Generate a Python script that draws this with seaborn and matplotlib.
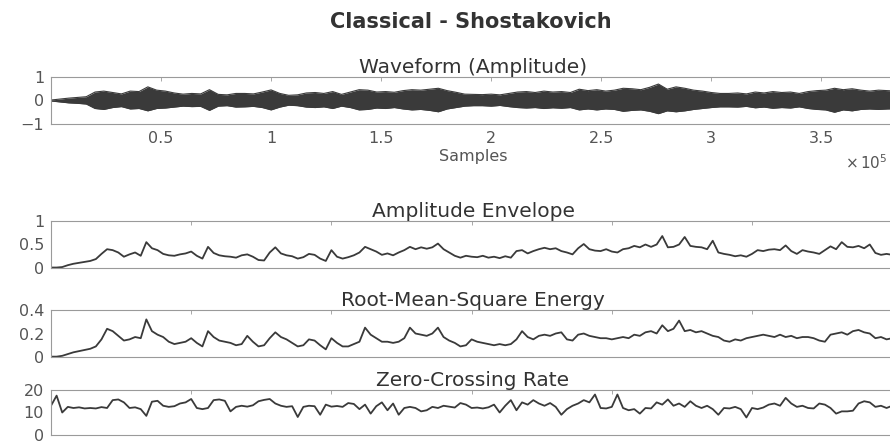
import numpy as np
import pandas as pd
import matplotlib
matplotlib.use("Agg")
import matplotlib.pyplot as plt
import seaborn as sns
from matplotlib.ticker import FuncFormatter

# ---- data -------------------------------------------------------------
# Waveform band: positive / negative peak amplitude per block of samples
wave_block = 4000
wave_upper = [0.02, 0.06, 0.10, 0.13, 0.16, 0.36, 0.40, 0.34, 0.28, 0.40,
              0.38, 0.58, 0.44, 0.40, 0.32, 0.27, 0.30, 0.28, 0.46, 0.26,
              0.24, 0.30, 0.30, 0.28, 0.36, 0.45, 0.30, 0.22, 0.24, 0.32,
              0.34, 0.30, 0.38, 0.26, 0.36, 0.46, 0.44, 0.36, 0.38, 0.35,
              0.42, 0.46, 0.44, 0.48, 0.52, 0.42, 0.35, 0.27, 0.26, 0.25,
              0.27, 0.24, 0.30, 0.36, 0.38, 0.34, 0.40, 0.36, 0.38, 0.34,
              0.48, 0.42, 0.46, 0.40, 0.44, 0.52, 0.50, 0.46, 0.56, 0.70,
              0.48, 0.58, 0.52, 0.44, 0.40, 0.34, 0.30, 0.30, 0.32, 0.28,
              0.36, 0.32, 0.38, 0.34, 0.36, 0.30, 0.38, 0.42, 0.44, 0.52,
              0.46, 0.50, 0.44, 0.40, 0.44, 0.42, 0.40]
wave_lower = [-0.02, -0.06, -0.10, -0.12, -0.15, -0.34, -0.38, -0.30, -0.26, -0.36,
              -0.34, -0.44, -0.34, -0.32, -0.28, -0.24, -0.26, -0.25, -0.42, -0.24,
              -0.22, -0.28, -0.27, -0.25, -0.30, -0.40, -0.28, -0.20, -0.22, -0.28,
              -0.30, -0.27, -0.34, -0.24, -0.30, -0.40, -0.38, -0.32, -0.34, -0.30,
              -0.36, -0.40, -0.38, -0.42, -0.48, -0.36, -0.30, -0.24, -0.22, -0.22,
              -0.24, -0.21, -0.26, -0.30, -0.32, -0.30, -0.34, -0.31, -0.33, -0.30,
              -0.40, -0.36, -0.40, -0.36, -0.38, -0.46, -0.42, -0.40, -0.46, -0.56,
              -0.44, -0.48, -0.44, -0.38, -0.34, -0.30, -0.27, -0.27, -0.28, -0.25,
              -0.31, -0.28, -0.33, -0.30, -0.32, -0.27, -0.34, -0.38, -0.40, -0.50,
              -0.40, -0.44, -0.38, -0.36, -0.38, -0.36, -0.35]
n_samples = 383500

# Frame-level features (one value every 4 frames)
frame_hop = 4
envelope = [0.01, 0.01, 0.02, 0.06, 0.09, 0.11, 0.13, 0.15, 0.19, 0.30,
            0.40, 0.38, 0.33, 0.24, 0.29, 0.33, 0.26, 0.55, 0.42, 0.38,
            0.30, 0.27, 0.26, 0.29, 0.31, 0.35, 0.26, 0.20, 0.45, 0.32,
            0.27, 0.25, 0.24, 0.22, 0.27, 0.29, 0.24, 0.17, 0.16, 0.33,
            0.44, 0.31, 0.27, 0.25, 0.20, 0.23, 0.30, 0.28, 0.20, 0.15,
            0.38, 0.24, 0.20, 0.23, 0.27, 0.33, 0.45, 0.40, 0.35, 0.28,
            0.31, 0.27, 0.33, 0.38, 0.45, 0.40, 0.44, 0.41, 0.44, 0.52,
            0.40, 0.33, 0.26, 0.22, 0.26, 0.24, 0.23, 0.26, 0.22, 0.24,
            0.21, 0.25, 0.22, 0.36, 0.38, 0.31, 0.36, 0.40, 0.43, 0.40,
            0.42, 0.36, 0.33, 0.29, 0.42, 0.51, 0.40, 0.37, 0.36, 0.40,
            0.35, 0.33, 0.40, 0.42, 0.47, 0.44, 0.50, 0.45, 0.50, 0.68,
            0.44, 0.45, 0.50, 0.66, 0.47, 0.45, 0.44, 0.40, 0.58, 0.33,
            0.30, 0.28, 0.25, 0.27, 0.24, 0.30, 0.38, 0.36, 0.39, 0.40,
            0.38, 0.48, 0.36, 0.30, 0.38, 0.35, 0.33, 0.30, 0.38, 0.46,
            0.40, 0.55, 0.45, 0.44, 0.47, 0.42, 0.50, 0.32, 0.28, 0.30,
            0.28]
rms = [0.003, 0.003, 0.01, 0.025, 0.04, 0.05, 0.06, 0.07, 0.09, 0.15,
       0.24, 0.22, 0.18, 0.14, 0.15, 0.17, 0.16, 0.32, 0.22, 0.19,
       0.17, 0.13, 0.11, 0.12, 0.13, 0.16, 0.12, 0.09, 0.22, 0.17,
       0.14, 0.13, 0.12, 0.10, 0.11, 0.18, 0.13, 0.09, 0.10, 0.16,
       0.21, 0.17, 0.15, 0.12, 0.09, 0.10, 0.15, 0.14, 0.10, 0.065,
       0.16, 0.12, 0.09, 0.09, 0.11, 0.13, 0.25, 0.19, 0.16, 0.13,
       0.13, 0.12, 0.13, 0.16, 0.25, 0.20, 0.19, 0.18, 0.20, 0.25,
       0.17, 0.14, 0.12, 0.09, 0.10, 0.15, 0.13, 0.12, 0.11, 0.10,
       0.11, 0.10, 0.11, 0.15, 0.22, 0.17, 0.15, 0.18, 0.19, 0.18,
       0.20, 0.21, 0.15, 0.14, 0.19, 0.20, 0.18, 0.17, 0.16, 0.16,
       0.15, 0.16, 0.17, 0.16, 0.19, 0.18, 0.21, 0.22, 0.20, 0.27,
       0.22, 0.24, 0.31, 0.22, 0.23, 0.21, 0.22, 0.20, 0.18, 0.17,
       0.14, 0.13, 0.15, 0.14, 0.16, 0.17, 0.18, 0.19, 0.18, 0.17,
       0.19, 0.17, 0.18, 0.16, 0.17, 0.17, 0.16, 0.14, 0.13, 0.19,
       0.20, 0.21, 0.19, 0.22, 0.23, 0.21, 0.20, 0.16, 0.17, 0.15,
       0.16]
zcr = [13.0, 17.5, 10.0, 12.5, 12.0, 12.3, 11.8, 12.0, 11.8, 12.4,
       12.0, 15.5, 15.8, 14.5, 12.0, 12.3, 11.5, 8.5, 14.8, 15.2,
       13.0, 12.5, 12.8, 14.0, 14.5, 16.0, 12.0, 11.5, 12.0, 15.5,
       15.8, 15.2, 10.5, 12.5, 13.0, 12.6, 13.2, 15.0, 15.6, 16.0,
       14.0, 13.0, 12.5, 12.8, 8.0, 12.5, 13.0, 12.8, 9.0, 13.5,
       12.6, 12.9, 12.5, 14.2, 13.8, 11.5, 13.5, 9.5, 12.8, 14.5,
       11.0, 14.0, 9.0, 12.0, 12.5, 12.0, 10.5, 11.0, 12.5, 12.0,
       13.0, 12.6, 12.2, 14.2, 13.5, 12.0, 12.2, 11.8, 12.3, 13.5,
       10.0, 13.0, 15.5, 11.0, 14.5, 13.5, 15.5, 14.0, 13.0, 14.2,
       12.5, 9.0, 11.5, 13.0, 14.0, 15.5, 14.5, 18.0, 12.0, 11.8,
       12.5, 18.0, 12.0, 11.0, 11.5, 9.5, 12.0, 11.8, 14.5, 13.5,
       15.8, 13.0, 14.0, 12.5, 15.0, 13.0, 12.0, 13.0, 11.5, 9.0,
       12.0, 11.8, 12.5, 11.5, 7.8, 12.0, 11.5, 12.2, 13.5, 14.0,
       13.0, 16.5, 14.0, 12.5, 13.0, 12.0, 11.8, 14.0, 13.5, 12.0,
       9.5, 10.5, 10.5, 10.8, 14.0, 15.0, 14.5, 12.5, 13.0, 12.0,
       13.0]
n_frames = 602

wave_df = pd.DataFrame({"sample": np.arange(len(wave_upper)) * wave_block,
                        "upper": wave_upper, "lower": wave_lower})
feat_df = pd.DataFrame({"frame": np.arange(len(envelope)) * frame_hop,
                        "envelope": envelope, "rms": rms, "zcr": zcr})

# ---- style ------------------------------------------------------------
sns.set_theme(style="white")
plt.rcParams["font.family"] = ["DejaVu Sans"]

INK = "#3a3a3a"
TXT = "#333333"
TICK = "#555555"
EDGE = "#9a9a9a"

W, H = 890, 445
fig = plt.figure(figsize=(W / 100, H / 100), dpi=100)


def panel(top, bottom, left=51, right=895):
    return fig.add_axes([left / W, 1 - bottom / H, (right - left) / W, (bottom - top) / H])


def dress(ax, title):
    ax.set_title(title, fontsize=14.5, color=TXT, pad=3)
    ax.tick_params(direction="in", length=3, width=0.6, top=True, right=True,
                   color=EDGE, labelcolor=TICK, labelsize=11.5, pad=5)
    for s in ax.spines.values():
        s.set_color(EDGE)
        s.set_linewidth(0.8)
    ax.set_xlabel("")
    ax.set_ylabel("")


# Waveform
ax0 = panel(77, 124)
ax0.fill_between(wave_df["sample"], wave_df["lower"], wave_df["upper"],
                 color=INK, linewidth=0)
sns.lineplot(data=wave_df, x="sample", y="upper", ax=ax0, color=INK, lw=0.8)
sns.lineplot(data=wave_df, x="sample", y="lower", ax=ax0, color=INK, lw=0.8)
ax0.set_xlim(0, n_samples)
ax0.set_ylim(-1, 1)
ax0.set_yticks([-1, 0, 1])
ax0.set_xticks(np.arange(50000, n_samples, 50000))
ax0.xaxis.set_major_formatter(FuncFormatter(lambda v, _: f"{v / 1e5:g}"))
dress(ax0, "Waveform (Amplitude)")
ax0.set_xlabel("Samples", fontsize=11.5, color=TICK, labelpad=2)
fig.text(888 / W, 1 - 163 / H, r"$\times\,10^{5}$", ha="right", va="center",
         fontsize=11, color=TICK)

# Frame-level features
specs = [
    ("envelope", "Amplitude Envelope", (221, 268), (0, 1), [0, 0.5, 1], ["0", "0.5", "1"]),
    ("rms", "Root-Mean-Square Energy", (310, 357), (0, 0.4), [0, 0.2, 0.4], ["0", "0.2", "0.4"]),
    ("zcr", "Zero-Crossing Rate", (390, 435), (0, 20), [0, 10, 20], ["0", "10", "20"]),
]
for col, title, (top, bottom), ylim, yt, ytl in specs:
    ax = panel(top, bottom)
    sns.lineplot(data=feat_df, x="frame", y=col, ax=ax, color=INK, lw=1.3)
    ax.set_xlim(0, n_frames)
    ax.set_ylim(*ylim)
    ax.set_yticks(yt)
    ax.set_yticklabels(ytl)
    ax.set_xticks(np.arange(100, n_frames, 100))
    ax.set_xticklabels([])
    dress(ax, title)

fig.text(471 / W, 1 - 22 / H, "Classical - Shostakovich", ha="center", va="center",
         fontsize=15, fontweight="bold", color=TXT)

fig.savefig("out.png", dpi=100, facecolor="white")
